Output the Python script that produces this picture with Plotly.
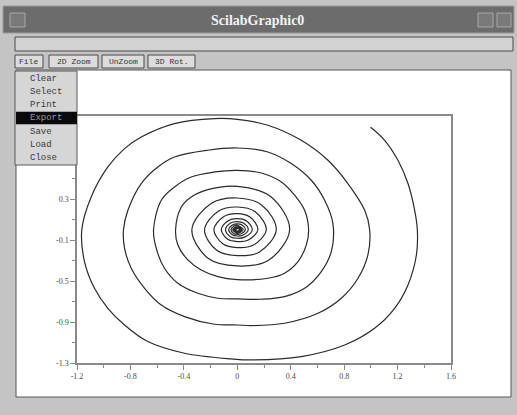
import plotly.graph_objects as go

# ---- data (clockwise inward spiral, x / y pairs) ----
spiral_x = [
    # turn 1
    0.998, 1.103, 1.203, 1.278, 1.328, 1.348, 1.341, 1.278, 1.178, 1.028,
    0.804, 0.479, 0.105, -0.045, -0.395, -0.670, -0.844, -0.969, -1.069,
    -1.144, -1.164, -1.094, -0.969, -0.844, -0.719, -0.470, -0.170, 0.0,
    0.229, 0.479, 0.679, 0.828, 0.954, 0.991,
    # turn 2
    0.978, 0.904, 0.779, 0.604, 0.354, 0.105, 0.0, -0.170, -0.395, -0.569,
    -0.694, -0.794, -0.844, -0.852, -0.819, -0.719, -0.595, -0.470, -0.220,
    0.0, 0.229, 0.404, 0.554, 0.654, 0.716,
    # turn 3
    0.704, 0.629, 0.504, 0.354, 0.180, 0.0, -0.145, -0.295, -0.445, -0.545,
    -0.607, -0.627, -0.569, -0.470, -0.345, -0.170, 0.0, 0.180, 0.330,
    0.429, 0.504, 0.534,
    # turn 4
    0.517, 0.454, 0.354, 0.229, 0.0, -0.145, -0.270, -0.370, -0.445,
    -0.462, -0.419, -0.345, -0.220, 0.0,
    # inner turns
    0.249, 0.392, 0.231, 0.0, -0.216, -0.340, -0.196, 0.0, 0.184,
    0.292, 0.166, 0.0, -0.154, -0.245, -0.140, 0.0, 0.134,
    0.217, 0.117, 0.0, -0.106, -0.175, -0.100, 0.0, 0.095,
    0.154, 0.079, 0.0, -0.071, -0.120, -0.068, 0.0, 0.067,
    0.112, 0.055, 0.0, -0.052, -0.088, -0.050, 0.0, 0.049,
    0.082, 0.041, 0.0, -0.038, -0.064, -0.036, 0.0, 0.036,
    0.060, 0.030, 0.0, -0.028, -0.047, -0.027, 0.0,
    0.044, 0.0, -0.034, 0.0,
    0.032, 0.0, -0.025, 0.0,
    0.023, 0.0, -0.018, 0.0,
    0.016, 0.0, -0.013, 0.0]
spiral_y = [
    # turn 1
    1.000, 0.873, 0.678, 0.451, 0.190, 0.0, -0.246, -0.538, -0.766, -0.961,
    -1.124, -1.237, -1.270, -1.260, -1.205, -1.091, -0.929, -0.766, -0.571,
    -0.310, 0.0, 0.320, 0.613, 0.792, 0.905, 1.036, 1.085, 1.078,
    1.020, 0.873, 0.678, 0.451, 0.190, 0.0,
    # turn 2
    -0.246, -0.473, -0.668, -0.815, -0.912, -0.935, -0.929, -0.922, -0.847,
    -0.734, -0.571, -0.376, -0.180, 0.0, 0.190, 0.451, 0.613, 0.710, 0.776,
    0.798, 0.759, 0.646, 0.483, 0.288, 0.060,
    # turn 3
    -0.213, -0.408, -0.571, -0.652, -0.678, -0.675, -0.668, -0.620, -0.522,
    -0.376, -0.180, 0.0, 0.288, 0.418, 0.515, 0.564, 0.580, 0.554, 0.466,
    0.337, 0.190, 0.0,
    # turn 4
    -0.148, -0.311, -0.424, -0.473, -0.486, -0.457, -0.392, -0.294, -0.148,
    0.0, 0.222, 0.320, 0.392, 0.424,
    # inner turns
    0.325, 0.0, -0.300, -0.353, -0.281, 0.0, 0.256, 0.310, 0.240,
    0.0, -0.217, -0.252, -0.200, 0.0, 0.182, 0.222, 0.175,
    0.0, -0.152, -0.174, -0.139, 0.0, 0.130, 0.158, 0.124,
    0.0, -0.102, -0.115, -0.093, 0.0, 0.089, 0.108, 0.087,
    0.0, -0.072, -0.083, -0.067, 0.0, 0.065, 0.079, 0.063,
    0.0, -0.053, -0.061, -0.049, 0.0, 0.047, 0.058, 0.046,
    0.0, -0.039, -0.045, -0.036, 0.0, 0.035, 0.042,
    0.0, -0.033, 0.0, 0.031,
    0.0, -0.024, 0.0, 0.022,
    0.0, -0.017, 0.0, 0.016,
    0.0, -0.012, 0.0, 0.011]

x_tick_vals = [-1.2, -0.8, -0.4, 0.0, 0.4, 0.8, 1.2, 1.6]
x_tick_text = ["-1.2", "-0.8", "-0.4", "0", "0.4", "0.8", "1.2", "1.6"]
y_tick_vals = [-1.3, -0.9, -0.5, -0.1, 0.3, 0.7, 1.1]
# the labels 0.7 and 1.1 are hidden behind the open File menu
y_tick_text = ["-1.3", "-0.9", "-0.5", "-0.1", "0.3", "", ""]

window_title = "ScilabGraphic0"
toolbar_buttons = ["File", "2D Zoom", "UnZoom", "3D Rot."]
menu_items = ["Clear", "Select", "Print", "Export", "Save", "Load", "Close"]
highlighted_item = "Export"

# ---- layout geometry ----
W, H = 517, 415
L, R, T, B = 77, 66, 116, 52
PW, PH = W - L - R, H - T - B


def px(x):
    return (x - L) / PW


def py(y):
    return (H - B - y) / PH


fig = go.Figure()
fig.add_trace(go.Scatter(
    x=spiral_x, y=spiral_y, mode="lines",
    line=dict(color="#2a2a2a", width=1.2, shape="spline", smoothing=1.0,
              simplify=False),
    hoverinfo="skip", showlegend=False, cliponaxis=True))

shapes = []
ann = []


def rect(x0, y0, x1, y1, fill, line="#555555", lw=1, layer="above"):
    shapes.append(dict(type="rect", xref="paper", yref="paper",
                       x0=px(x0), x1=px(x1), y0=py(y1), y1=py(y0),
                       fillcolor=fill, line=dict(color=line, width=lw),
                       layer=layer))


def text(x, y, s, size=9, color="#333333", family="Liberation Mono",
         xanchor="left", bold=False):
    ann.append(dict(xref="paper", yref="paper", x=px(x), y=py(y),
                    text=("<b>%s</b>" % s) if bold else s, showarrow=False,
                    xanchor=xanchor, yanchor="middle",
                    font=dict(size=size, color=color, family=family)))


# white drawing area (below the plot)
rect(16, 70, 511, 397, "white", line="#555555", lw=1, layer="below")

# title bar
rect(3, 6, 514, 33, "#6c6c6c", line="#9c9c9c", lw=1)
rect(10, 13, 25, 27, "#7a7a7a", line="#a8a8a8", lw=1)
rect(478, 13, 493, 27, "#7a7a7a", line="#a8a8a8", lw=1)
rect(497, 13, 511, 27, "#7a7a7a", line="#a8a8a8", lw=1)
text(257, 20, window_title, size=14, color="#f2f2f2",
     family="Liberation Serif", xanchor="center", bold=True)

# message field
rect(15, 37, 513, 51, "#d2d2d2", line="#4a4a4a", lw=1)

# toolbar buttons
btn_x = [(15, 43), (49, 98), (102, 144), (148, 195)]
for (a, b), lab in zip(btn_x, toolbar_buttons):
    rect(a, 55, b, 68, "#dcdcdc", line="#4a4a4a", lw=1)
    text((a + b) / 2, 61.5, lab, size=8, color="#333333", xanchor="center")

# drop-down menu
rect(15, 71, 77, 165, "#d6d6d6", line="#5a5a5a", lw=1)
item_y = [79, 92, 104.7, 118, 131.5, 144.5, 157.5]
for lab, yy in zip(menu_items, item_y):
    if lab == highlighted_item:
        rect(16, yy - 6.3, 77, yy + 6.3, "#0a0a0a", line="#0a0a0a", lw=0)
        text(28, yy, lab, size=9, color="#9a9a9a")
    else:
        text(28, yy, lab, size=9, color="#3a3a3a")

fig.update_layout(
    width=W, height=H,
    margin=dict(l=L, r=R, t=T, b=B, pad=0),
    paper_bgcolor="#c4c4c4", plot_bgcolor="white",
    shapes=shapes, annotations=ann, showlegend=False,
    xaxis=dict(range=[-1.2, 1.6], tickvals=x_tick_vals, ticktext=x_tick_text,
               showgrid=False, zeroline=False, showline=True,
               linecolor="#8a8a8a", linewidth=1.5, mirror=True,
               ticks="outside", ticklen=5, tickcolor="#8a8a8a",
               tickfont=dict(size=8, color="#4a4a4a",
                             family="Liberation Serif"),
               minor=dict(tick0=-1.2, dtick=0.2, ticks="outside", ticklen=3,
                          tickcolor="#8a8a8a", showgrid=False),
               fixedrange=True),
    yaxis=dict(range=[-1.3, 1.11], tickvals=y_tick_vals, ticktext=y_tick_text,
               showgrid=False, zeroline=False, showline=True,
               linecolor="#8a8a8a", linewidth=1.5, mirror=True,
               ticks="outside", ticklen=5, tickcolor="#8a8a8a",
               tickfont=dict(size=8, color="#4a4a4a",
                             family="Liberation Serif"),
               minor=dict(tick0=-1.3, dtick=0.2, ticks="outside", ticklen=3,
                          tickcolor="#8a8a8a", showgrid=False),
               fixedrange=True),
)

fig.write_html("out.html", config={"displayModeBar": False},
               post_script="document.body.style.margin='0';"
                           "document.body.style.padding='0';")
